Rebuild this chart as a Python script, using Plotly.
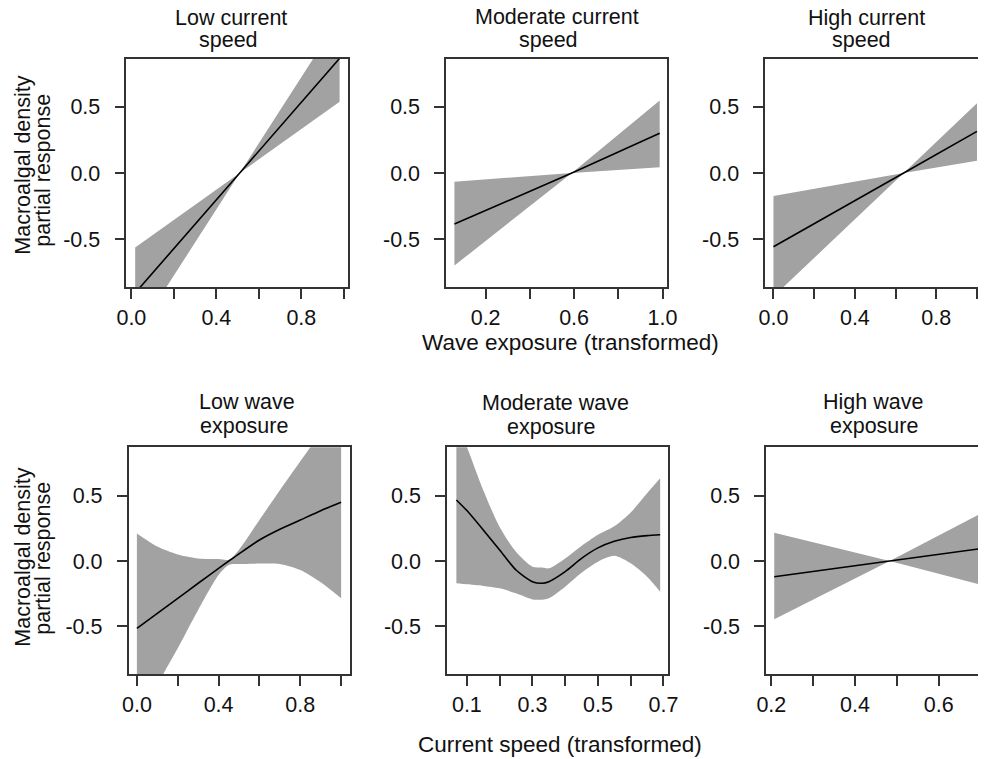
import plotly.graph_objects as go

FONT = "Liberation Sans, Arial, Helvetica, sans-serif"
W, H = 989, 759

# ---------------- data ----------------
# Top row: partial response vs wave exposure
p1_x = [0.018, 0.51, 0.98]
p1_fit = [-0.907, 0.0, 0.867]
p1_upper = [-0.563, 0.0, 1.175]
p1_lower = [-1.23, 0.0, 0.538]

p2_x = [0.059, 0.59, 0.987]
p2_fit = [-0.386, 0.0, 0.30]
p2_upper = [-0.066, 0.0, 0.548]
p2_lower = [-0.70, 0.0, 0.043]

p3_x = [0.0, 0.64, 1.0]
p3_fit = [-0.558, 0.0, 0.315]
p3_upper = [-0.174, 0.0, 0.528]
p3_lower = [-0.934, 0.0, 0.093]

# Bottom row: partial response vs current speed
p4_x = [0.0, 0.1, 0.2, 0.3, 0.4, 0.45, 0.5, 0.6, 0.7, 0.8, 0.9, 1.0]
p4_fit = [-0.514, -0.40, -0.285, -0.17, -0.056, 0.0, 0.055, 0.16, 0.242, 0.313, 0.384, 0.448]
p4_upper = [0.21, 0.11, 0.05, 0.02, 0.015, 0.01, 0.086, 0.313, 0.54, 0.761, 0.98, 1.2]
p4_lower = [-1.3, -0.95, -0.667, -0.374, -0.107, -0.03, -0.023, -0.02, -0.023, -0.069, -0.163, -0.285]

p5_x = [0.068, 0.1, 0.15, 0.2, 0.25, 0.3, 0.33, 0.35, 0.4, 0.45, 0.5, 0.55, 0.6, 0.65, 0.69]
p5_fit = [0.466, 0.385, 0.237, 0.084, -0.069, -0.158, -0.17, -0.158, -0.081, 0.02, 0.10, 0.15, 0.18, 0.194, 0.20]
p5_upper = [1.05, 0.87, 0.54, 0.26, 0.07, -0.043, -0.05, -0.056, 0.02, 0.115, 0.20, 0.265, 0.37, 0.517, 0.631]
p5_lower = [-0.17, -0.178, -0.19, -0.209, -0.247, -0.293, -0.295, -0.285, -0.196, -0.09, -0.005, 0.04, -0.018, -0.12, -0.234]

p6_x = [0.207, 0.483, 0.70]
p6_fit = [-0.12, 0.0, 0.094]
p6_upper = [0.216, 0.0, 0.361]
p6_lower = [-0.445, 0.0, -0.181]

titles_line1 = ["Low current", "Moderate current", "High current",
                "Low wave", "Moderate wave", "High wave"]
titles_line2 = ["speed", "speed", "speed", "exposure", "exposure", "exposure"]

x_tickvals = [
    [0.0, 0.2, 0.4, 0.6, 0.8, 1.0],
    [0.2, 0.4, 0.6, 0.8, 1.0],
    [0.0, 0.2, 0.4, 0.6, 0.8, 1.0],
    [0.0, 0.2, 0.4, 0.6, 0.8, 1.0],
    [0.1, 0.2, 0.3, 0.4, 0.5, 0.6, 0.7],
    [0.2, 0.3, 0.4, 0.5, 0.6, 0.7],
]
x_ticktext = [
    ["0.0", "", "0.4", "", "0.8", ""],
    ["0.2", "", "0.6", "", "1.0"],
    ["0.0", "", "0.4", "", "0.8", ""],
    ["0.0", "", "0.4", "", "0.8", ""],
    ["0.1", "", "0.3", "", "0.5", "", "0.7"],
    ["0.2", "", "0.4", "", "0.6", ""],
]
y_tickvals = [-0.5, 0.0, 0.5]
y_ticktext = ["-0.5", "0.0", "0.5"]

y_title_line1 = "Macroalgal density"
y_title_line2 = "partial response"
x_title_top = "Wave exposure (transformed)"
x_title_bottom = "Current speed (transformed)"

# ---------------- layout geometry (pixels) ----------------
panels = [
    dict(x=p1_x, fit=p1_fit, up=p1_upper, lo=p1_lower, px=(119, 345), py=(59, 287), xr=(-0.023, 1.018), yr=(-0.862, 0.862), mirror_y=True, smooth=False),
    dict(x=p2_x, fit=p2_fit, up=p2_upper, lo=p2_lower, px=(445.7, 671), py=(59, 287), xr=(0.022, 1.019), yr=(-0.862, 0.862), mirror_y=True, smooth=False),
    dict(x=p3_x, fit=p3_fit, up=p3_upper, lo=p3_lower, px=(771.7, 989), py=(59, 287), xr=(-0.04, 1.005), yr=(-0.862, 0.862), mirror_y=False, smooth=False),
    dict(x=p4_x, fit=p4_fit, up=p4_upper, lo=p4_lower, px=(121.3, 347.7), py=(447.3, 674.3), xr=(-0.04, 1.045), yr=(-0.865, 0.868), mirror_y=True, smooth=True),
    dict(x=p5_x, fit=p5_fit, up=p5_upper, lo=p5_lower, px=(446.7, 672.3), py=(447.3, 674.3), xr=(0.04, 0.714), yr=(-0.865, 0.868), mirror_y=True, smooth=True),
    dict(x=p6_x, fit=p6_fit, up=p6_upper, lo=p6_lower, px=(772.7, 989), py=(447.3, 674.3), xr=(0.188, 0.694), yr=(-0.865, 0.868), mirror_y=False, smooth=False),
]
title_pos = [  # (center x line1, center x line2, baseline line1, baseline line2)
    (226, 223, 25.5, 48),
    (559, 550, 25, 48),
    (875, 870, 25.5, 48),
    (242, 239, 409.5, 433.5),
    (557, 553, 411, 435),
    (882, 883, 409.5, 433.5),
]

FILL = "#a2a2a2"
AX = "#333333"
TXT = "#111111"
FS = 21.5

fig = go.Figure()
layout = dict(
    width=W, height=H,
    margin=dict(l=0, r=0, t=0, b=0),
    paper_bgcolor="white", plot_bgcolor="white",
    showlegend=False,
    font=dict(family=FONT, size=FS, color=TXT),
)
annotations = []

def px2fx(p):
    return p / W

def py2fy(p):
    return 1 - p / H

for i, p in enumerate(panels):
    n = "" if i == 0 else str(i + 1)
    xa, ya = "x" + n, "y" + n
    shp = "spline" if p["smooth"] else "linear"
    # lower edge (invisible), then upper edge filled down to it
    fig.add_trace(go.Scatter(x=p["x"], y=p["lo"], mode="lines",
                             line=dict(width=0, color=FILL, shape=shp, smoothing=0.8),
                             hoverinfo="skip", xaxis=xa, yaxis=ya))
    fig.add_trace(go.Scatter(x=p["x"], y=p["up"], mode="lines", fill="tonexty",
                             line=dict(width=0, color=FILL, shape=shp, smoothing=0.8),
                             fillcolor=FILL, hoverinfo="skip", xaxis=xa, yaxis=ya))
    fig.add_trace(go.Scatter(x=p["x"], y=p["fit"], mode="lines",
                             line=dict(color="black", width=1.6, shape="spline", smoothing=0.7),
                             xaxis=xa, yaxis=ya))
    layout["xaxis" + n] = dict(
        domain=[px2fx(p["px"][0]), min(1.0, px2fx(p["px"][1]))],
        range=list(p["xr"]), anchor=ya,
        showgrid=False, zeroline=False,
        showline=True, mirror=True, linecolor=AX, linewidth=1.8,
        ticks="outside", ticklen=10, tickwidth=1.6, tickcolor=AX,
        tickvals=x_tickvals[i], ticktext=x_ticktext[i],
        tickfont=dict(family=FONT, size=FS, color=TXT),
        ticklabelstandoff=0,
    )
    layout["yaxis" + n] = dict(
        domain=[py2fy(p["py"][1]), py2fy(p["py"][0])],
        range=list(p["yr"]), anchor=xa,
        showgrid=False, zeroline=False,
        showline=True, mirror=p["mirror_y"], linecolor=AX, linewidth=1.8,
        ticks="outside", ticklen=10, tickwidth=1.6, tickcolor=AX,
        tickvals=y_tickvals, ticktext=y_ticktext,
        tickfont=dict(family=FONT, size=FS, color=TXT),
        ticklabelstandoff=10,
    )
    cx1, cx2, b1, b2 = title_pos[i]
    for cx, b, txt in ((cx1, b1, titles_line1[i]), (cx2, b2, titles_line2[i])):
        annotations.append(dict(
            text=txt, x=px2fx(cx), y=py2fy(b - 0.35 * FS), xref="paper", yref="paper",
            xanchor="center", yanchor="middle", showarrow=False,
            font=dict(family=FONT, size=FS, color=TXT)))

# y-axis titles (two vertical lines per row)
for cy1, cy2 in ((165, 170), (557, 558)):
    annotations.append(dict(text=y_title_line1, x=px2fx(13), y=py2fy(cy1), xref="paper", yref="paper",
                            xanchor="center", yanchor="middle", textangle=-90, showarrow=False,
                            font=dict(family=FONT, size=FS, color=TXT)))
    annotations.append(dict(text=y_title_line2, x=px2fx(33.5), y=py2fy(cy2), xref="paper", yref="paper",
                            xanchor="center", yanchor="middle", textangle=-90, showarrow=False,
                            font=dict(family=FONT, size=FS, color=TXT)))

# x-axis titles
annotations.append(dict(text=x_title_top, x=px2fx(573), y=py2fy(350.5 - 0.35 * FS), xref="paper", yref="paper",
                        xanchor="center", yanchor="middle", showarrow=False,
                        font=dict(family=FONT, size=FS + 1, color=TXT)))
annotations.append(dict(text=x_title_bottom, x=px2fx(562), y=py2fy(752.5 - 0.35 * FS), xref="paper", yref="paper",
                        xanchor="center", yanchor="middle", showarrow=False,
                        font=dict(family=FONT, size=FS + 1, color=TXT)))

layout["annotations"] = annotations
fig.update_layout(**layout)
fig.write_html("out.html", config={"displayModeBar": False},
               post_script="document.body.style.margin='0';document.body.style.overflow='hidden';")
